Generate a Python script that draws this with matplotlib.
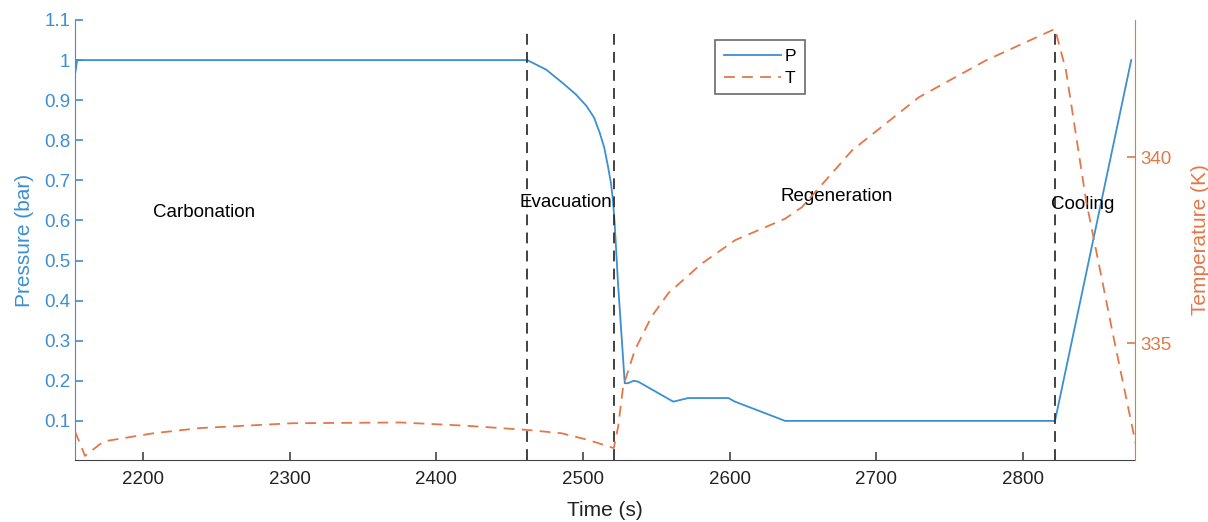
import matplotlib
matplotlib.use("Agg")
import matplotlib.pyplot as plt
from matplotlib.ticker import FuncFormatter

plt.rcParams['font.family'] = ['Liberation Sans', 'DejaVu Sans']

# Pressure series (time s, bar)
p_time = [2153.5, 2155, 2462, 2475, 2486.4, 2495, 2502.3, 2507.5, 2511.4, 2514.5, 2517.0,
          2519.0, 2520.4, 2521.6, 2523.9, 2526.2, 2528.5, 2530.7, 2534.5, 2537.6,
          2561.6, 2571.8, 2599.2, 2603.7, 2637.9, 2822, 2874]
p_vals = [0.965, 1.0, 1.0, 0.976, 0.942, 0.915, 0.886, 0.857, 0.819, 0.782, 0.736,
          0.695, 0.653, 0.594, 0.444, 0.319, 0.194, 0.194, 0.2, 0.198,
          0.148, 0.157, 0.157, 0.148, 0.1, 0.1, 1.0]

# Temperature series (time s, K)
t_time = [2153.5, 2160.3, 2172.9, 2207, 2239, 2301.7, 2375.8, 2421.4, 2461.8, 2485.4,
          2503.5, 2521, 2524, 2527.4, 2535.4, 2546.8, 2558.2, 2581, 2603.8, 2638,
          2649.4, 2683.6, 2729.2, 2774.8, 2822, 2829.5, 2843.2, 2861.4, 2877]
t_vals = [332.62, 331.96, 332.35, 332.57, 332.71, 332.84, 332.86, 332.77, 332.66, 332.57,
          332.39, 332.17, 332.75, 333.83, 334.81, 335.71, 336.34, 337.14, 337.77, 338.35,
          338.66, 340.19, 341.62, 342.61, 343.46, 342.34, 338.84, 335.26, 332.30]

phase_bounds = [2462, 2521, 2822]
phase_names = ["Carbonation", "Evacuation", "Regeneration", "Cooling"]
phase_label_x = [2207, 2456.5, 2635, 2819]
phase_label_y = [0.62, 0.645, 0.66, 0.64]

left_ticks = [0.1, 0.2, 0.3, 0.4, 0.5, 0.6, 0.7, 0.8, 0.9, 1.0, 1.1]
right_ticks = [335, 340]
x_ticks = [2200, 2300, 2400, 2500, 2600, 2700, 2800]

blue = '#3b8fd2'
orange = '#e47748'

fig = plt.figure(figsize=(12.08, 5.22), dpi=100)
ax = fig.add_axes([0.0621, 0.1188, 0.8775, 0.8429])
ax2 = ax.twinx()

lp, = ax.plot(p_time, p_vals, color=blue, lw=1.3, label='P')
lt, = ax2.plot(t_time, t_vals, color=orange, lw=1.3, ls=(0, (6, 4)), label='T')

for xb in phase_bounds:
    ax.axvline(xb, ymin=0, ymax=0.985, color='#333333', lw=1.3, ls=(0, (6, 4)))

for name, x, y in zip(phase_names, phase_label_x, phase_label_y):
    ax.text(x, y, name, fontsize=13.5, color='black', ha='left', va='center')

ax.set_xlim(2153.5, 2876.6)
ax.set_ylim(0.0025, 1.1)
ax2.set_ylim(331.85, 343.7)

ax.set_xticks(x_ticks)
ax.set_yticks(left_ticks)
ax.yaxis.set_major_formatter(FuncFormatter(lambda v, p: ('%g' % round(v, 2))))
ax2.set_yticks(right_ticks)

ax.set_xlabel('Time (s)', fontsize=15, color='#222222', labelpad=9)
ax.set_ylabel('Pressure (bar)', fontsize=15, color=blue, labelpad=7)
ax2.set_ylabel('Temperature (K)', fontsize=15, color=orange, labelpad=14)

for a in (ax, ax2):
    a.spines['top'].set_visible(False)
ax.spines['right'].set_visible(False)
ax.spines['left'].set_color(blue)
ax.spines['bottom'].set_color('#444444')
ax2.spines['left'].set_visible(False)
ax2.spines['bottom'].set_visible(False)
ax2.spines['right'].set_color(orange)

ax.tick_params(axis='y', direction='in', colors=blue, labelsize=13.5, length=6, width=1.2)
ax.tick_params(axis='x', direction='in', colors='#444444', labelcolor='#222222', labelsize=13.5, length=6, width=1.2, pad=8)
ax2.tick_params(axis='y', direction='in', colors=orange, labelsize=13.5, length=6, width=1.2)

leg = ax.legend(handles=[lp, lt], loc='upper left', bbox_to_anchor=(0.604, 0.955),
                borderaxespad=0.0,
                fontsize=12.5, frameon=True, fancybox=False, edgecolor='#444444',
                handlelength=3.3, handletextpad=0.2, borderpad=0.5, labelspacing=0.4,
                markerfirst=True)
leg.get_frame().set_linewidth(1.2)

fig.savefig('out.png', dpi=100, facecolor='white')
